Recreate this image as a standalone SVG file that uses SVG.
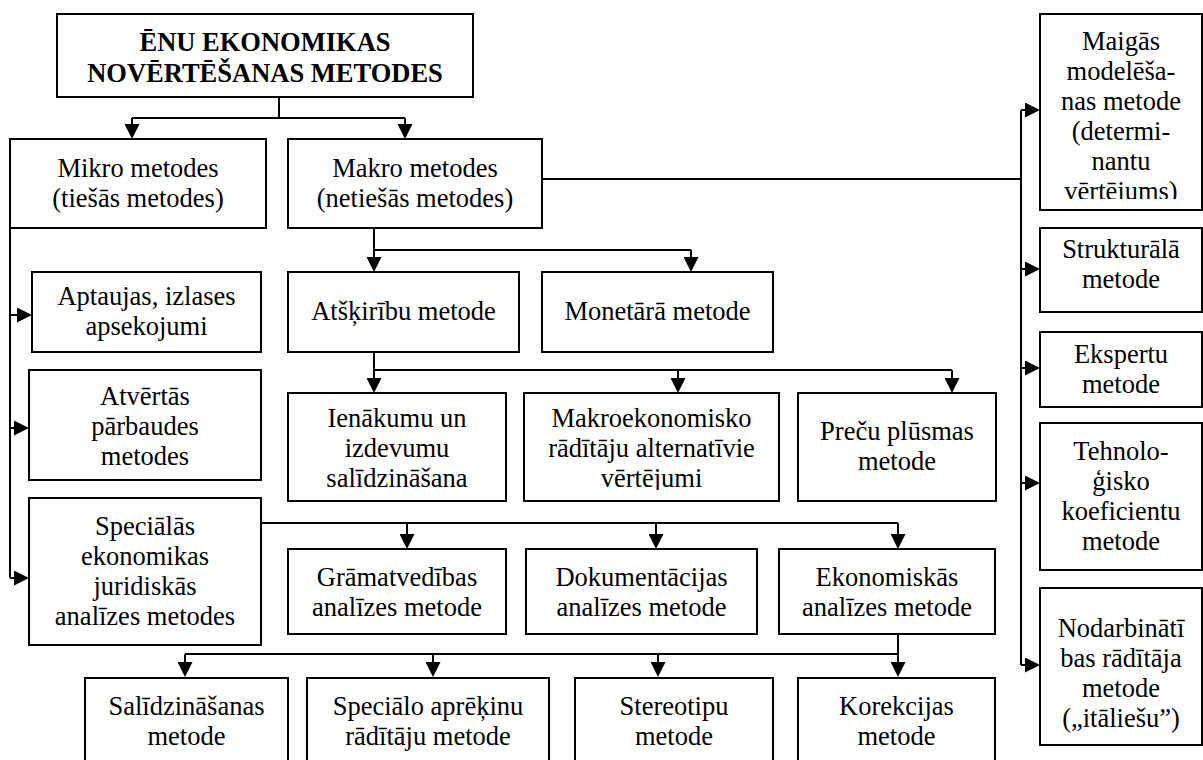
<svg xmlns="http://www.w3.org/2000/svg" width="1203" height="760" viewBox="0 0 1203 760">
<style>
.box{fill:#fff;stroke:#000;stroke-width:2}
.t{font-family:"Liberation Serif","Times New Roman",serif;font-size:26.5px;fill:#000;text-anchor:middle}
.b{font-weight:bold}
.ln{fill:none;stroke:#000;stroke-width:2}
.ar{fill:none;stroke:#000;stroke-width:2;marker-end:url(#arr)}
</style>
<defs>
<marker id="arr" markerUnits="userSpaceOnUse" markerWidth="15" markerHeight="15" refX="11" refY="7.5" orient="auto">
<path d="M0,0 L15,7.5 L0,15 z" fill="#000"/>
</marker>
<clipPath id="clipMaig"><rect x="1040" y="14" width="163" height="185"/></clipPath>
<clipPath id="clipMakroek"><rect x="524" y="393" width="255" height="97"/></clipPath>
</defs>
<rect x="0" y="0" width="1203" height="760" fill="#fff"/>

<g id="connectors">
<path class="ln" d="M279,97 V118 M132,118 H405"/>
<path class="ar" d="M132,118 V135"/>
<path class="ar" d="M405,118 V135"/>
<path class="ln" d="M10,228 V578"/>
<path class="ar" d="M10,315 H28"/>
<path class="ar" d="M10,428 H25"/>
<path class="ar" d="M10,578 H25"/>
<path class="ln" d="M374,228 V250 H691"/>
<path class="ar" d="M374,250 V268"/>
<path class="ar" d="M691,250 V268"/>
<path class="ln" d="M374,352 V370 H952"/>
<path class="ar" d="M374,370 V389"/>
<path class="ar" d="M678,370 V389"/>
<path class="ar" d="M952,370 V389"/>
<path class="ln" d="M261,523 H898"/>
<path class="ar" d="M407,523 V545"/>
<path class="ar" d="M656,523 V545"/>
<path class="ar" d="M898,523 V545"/>
<path class="ln" d="M898,634 V654 H185"/>
<path class="ar" d="M185,654 V673"/>
<path class="ar" d="M433,654 V673"/>
<path class="ar" d="M658,654 V673"/>
<path class="ar" d="M898,654 V673"/>
<path class="ln" d="M542,179 H1021 M1021,110 V665"/>
<path class="ar" d="M1021,110 H1036"/>
<path class="ar" d="M1021,269 H1036"/>
<path class="ar" d="M1021,368 H1036"/>
<path class="ar" d="M1021,483 H1036"/>
<path class="ar" d="M1021,665 H1036"/>
</g>

<g id="title">
<rect class="box" x="57" y="14" width="416" height="83"/>
<text class="t b"><tspan x="265" y="51">ĒNU EKONOMIKAS</tspan><tspan x="265" y="82">NOVĒRTĒŠANAS METODES</tspan></text>
</g>
<g id="mikro">
<rect class="box" x="10" y="139" width="256" height="89"/>
<text class="t"><tspan x="138" y="177">Mikro metodes</tspan><tspan x="138" y="207">(tiešās metodes)</tspan></text>
</g>
<g id="makro">
<rect class="box" x="288" y="139" width="254" height="89"/>
<text class="t"><tspan x="415" y="177">Makro metodes</tspan><tspan x="415" y="207">(netiešās metodes)</tspan></text>
</g>
<g id="aptaujas">
<rect class="box" x="32" y="272" width="229" height="80"/>
<text class="t"><tspan x="146.5" y="305">Aptaujas, izlases</tspan><tspan x="146.5" y="335">apsekojumi</tspan></text>
</g>
<g id="atvertas">
<rect class="box" x="29" y="370" width="232" height="110"/>
<text class="t"><tspan x="145" y="405">Atvērtās</tspan><tspan x="145" y="435">pārbaudes</tspan><tspan x="145" y="465">metodes</tspan></text>
</g>
<g id="specialas">
<rect class="box" x="29" y="498" width="232" height="147"/>
<text class="t"><tspan x="145" y="535">Speciālās</tspan><tspan x="145" y="565">ekonomikas</tspan><tspan x="145" y="595">juridiskās</tspan><tspan x="145" y="625">analīzes metodes</tspan></text>
</g>
<g id="atskiribu">
<rect class="box" x="288" y="272" width="231" height="80"/>
<text class="t"><tspan x="403.5" y="320">Atšķirību metode</tspan></text>
</g>
<g id="monetara">
<rect class="box" x="542" y="272" width="231" height="80"/>
<text class="t"><tspan x="657.5" y="320">Monetārā metode</tspan></text>
</g>
<g id="ienakumu">
<rect class="box" x="288" y="393" width="218" height="108"/>
<text class="t"><tspan x="397" y="427">Ienākumu un</tspan><tspan x="397" y="457">izdevumu</tspan><tspan x="397" y="487">salīdzināšana</tspan></text>
</g>
<g id="makroek">
<rect class="box" x="524" y="393" width="255" height="108"/>
<g clip-path="url(#clipMakroek)">
<text class="t"><tspan x="651.5" y="427">Makroekonomisko</tspan><tspan x="651.5" y="457">rādītāju alternatīvie</tspan><tspan x="651.5" y="487">vērtējumi</tspan></text>
</g>
</g>
<g id="precu">
<rect class="box" x="798" y="393" width="198" height="108"/>
<text class="t"><tspan x="897" y="440">Preču plūsmas</tspan><tspan x="897" y="470">metode</tspan></text>
</g>
<g id="gramatvedibas">
<rect class="box" x="288" y="549" width="218" height="85"/>
<text class="t"><tspan x="397" y="586">Grāmatvedības</tspan><tspan x="397" y="616">analīzes metode</tspan></text>
</g>
<g id="dokumentacijas">
<rect class="box" x="526" y="549" width="231" height="85"/>
<text class="t"><tspan x="641.5" y="586">Dokumentācijas</tspan><tspan x="641.5" y="616">analīzes metode</tspan></text>
</g>
<g id="ekonomiskas">
<rect class="box" x="779" y="549" width="216" height="85"/>
<text class="t"><tspan x="887" y="586">Ekonomiskās</tspan><tspan x="887" y="616">analīzes metode</tspan></text>
</g>
<g id="salidzinasanas">
<rect class="box" x="85" y="678" width="203" height="100"/>
<text class="t"><tspan x="186.5" y="715">Salīdzināšanas</tspan><tspan x="186.5" y="745">metode</tspan></text>
</g>
<g id="specialo">
<rect class="box" x="307" y="678" width="242" height="100"/>
<text class="t"><tspan x="428" y="715">Speciālo aprēķinu</tspan><tspan x="428" y="745">rādītāju metode</tspan></text>
</g>
<g id="stereotipu">
<rect class="box" x="575" y="678" width="198" height="100"/>
<text class="t"><tspan x="674" y="715">Stereotipu</tspan><tspan x="674" y="745">metode</tspan></text>
</g>
<g id="korekcijas">
<rect class="box" x="798" y="678" width="197" height="100"/>
<text class="t"><tspan x="896.5" y="715">Korekcijas</tspan><tspan x="896.5" y="745">metode</tspan></text>
</g>
<g id="maigas">
<rect class="box" x="1040" y="14" width="162" height="196"/>
<g clip-path="url(#clipMaig)">
<text class="t"><tspan x="1121" y="50">Maigās</tspan><tspan x="1121" y="80">modelēša-</tspan><tspan x="1121" y="110">nas metode</tspan><tspan x="1121" y="140">(determi-</tspan><tspan x="1121" y="170">nantu</tspan><tspan x="1121" y="200">vērtējums)</tspan></text>
</g>
</g>
<g id="strukturala">
<rect class="box" x="1040" y="228" width="162" height="84"/>
<text class="t"><tspan x="1121" y="258">Strukturālā</tspan><tspan x="1121" y="288">metode</tspan></text>
</g>
<g id="ekspertu">
<rect class="box" x="1040" y="332" width="162" height="75"/>
<text class="t"><tspan x="1121" y="363">Ekspertu</tspan><tspan x="1121" y="393">metode</tspan></text>
</g>
<g id="tehnologisko">
<rect class="box" x="1040" y="423" width="162" height="147"/>
<text class="t"><tspan x="1121" y="460">Tehnolo-</tspan><tspan x="1121" y="490">ģisko</tspan><tspan x="1121" y="520">koeficientu</tspan><tspan x="1121" y="550">metode</tspan></text>
</g>
<g id="nodarbinatibas">
<rect class="box" x="1040" y="588" width="162" height="157"/>
<text class="t"><tspan x="1121" y="637">Nodarbinātī</tspan><tspan x="1121" y="667">bas rādītāja</tspan><tspan x="1121" y="697">metode</tspan><tspan x="1121" y="727">(„itāliešu”)</tspan></text>
</g>
</svg>
